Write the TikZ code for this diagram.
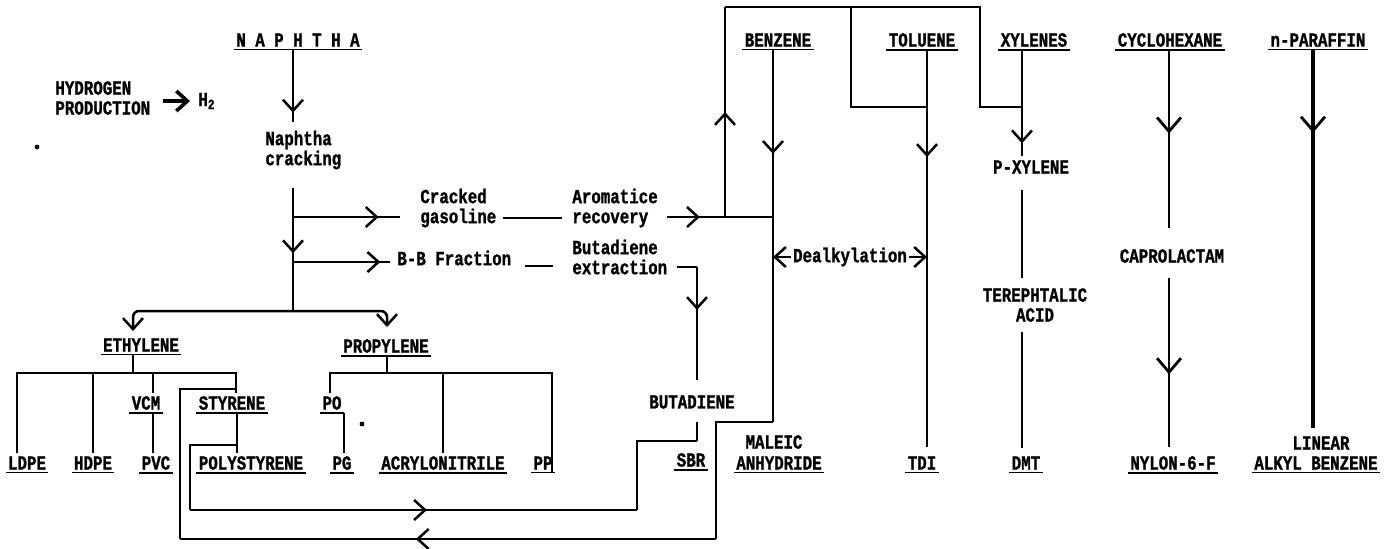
\documentclass[tikz,border=0pt]{standalone}
\usepackage{fontspec}
\newfontfamily\tw[FakeStretch=0.79,FakeBold=1.2]{Liberation Mono}
\usetikzlibrary{arrows.meta,decorations.markings}
\tikzset{
  ln/.style={line width=1.25pt},
  >={Straight Barb[length=5.5pt,width=10pt]},
  marr/.style={postaction={decorate,decoration={markings,mark=at position #1 with {\arrow{>}}}}},
  marrb/.style={postaction={decorate,decoration={markings,mark=at position #1 with {\arrow[line width=1.4pt]{Straight Barb[length=7pt,width=12pt]}}}}},
  lbl/.style={font=\tw\bfseries\fontsize{10}{10}\selectfont, inner xsep=1pt, inner ysep=1.3pt},
  ul/.style={lbl, append after command={(\tikzlastnode.south west) edge[draw,line width=0.9pt] (\tikzlastnode.south east)}},
}
\begin{document}
\begin{tikzpicture}[x=0.5pt,y=-0.5pt]
\useasboundingbox (0,0) rectangle (1389,548);
% ---------- labels ----------
\node[ul] (naph) at (298,40) {N A P H T H A};
\node[lbl,align=left,anchor=west] (hyd) at (53,98) {HYDROGEN\\PRODUCTION};
\node[lbl,anchor=west] (h2) at (196,101) {H\textsubscript{2}};
\node[lbl,align=left,anchor=west] (crack) at (263,150) {Naphtha\\cracking};
\node[lbl,align=left,anchor=west] (cgas) at (418,208) {Cracked\\gasoline};
\node[lbl,align=left,anchor=west] (arom) at (570,208) {Aromatice\\recovery};
\node[lbl,anchor=west] (bbf) at (395,258) {B-B Fraction};
\node[lbl,align=left,anchor=west] (butx) at (570,257) {Butadiene\\extraction};
\node[lbl] (buta) at (692,402) {BUTADIENE};
\node[ul] (sbr) at (691,460) {SBR};
\node[ul] (ethy) at (141,345) {ETHYLENE};
\node[ul] (prop) at (386,346) {PROPYLENE};
\node[ul] (ldpe) at (27,463) {LDPE};
\node[ul] (hdpe) at (93,463) {HDPE};
\node[ul] (vcm) at (146,403) {VCM};
\node[ul] (pvc) at (156,463) {PVC};
\node[ul] (styr) at (232,403) {STYRENE};
\node[ul] (poly) at (251,463) {POLYSTYRENE};
\node[ul] (po) at (332,403) {PO};
\node[ul] (pg) at (342,463) {PG};
\node[ul] (acry) at (443,463) {ACRYLONITRILE};
\node[ul] (pp) at (543,463) {PP};
\node[ul] (benz) at (778,40) {BENZENE};
\node[ul] (tolu) at (922,40) {TOLUENE};
\node[ul] (xyl) at (1034,40) {XYLENES};
\node[ul] (cyclo) at (1170,40) {CYCLOHEXANE};
\node[ul] (npar) at (1318,40) {n-PARAFFIN};
\node[lbl] (pxyl) at (1031,167) {P-XYLENE};
\node[lbl,align=center] (tere) at (1035,305) {TEREPHTALIC\\ACID};
\node[ul] (dmt) at (1026,463) {DMT};
\node[ul] (tdi) at (922,463) {TDI};
\node[lbl] (male) at (774,442) {MALEIC};
\node[ul] (anhy) at (779,463) {ANHYDRIDE};
\node[lbl] (capro) at (1172,256) {CAPROLACTAM};
\node[ul] (nylon) at (1173,463) {NYLON-6-F};
\node[lbl] (linear) at (1321,443) {LINEAR};
\node[ul] (alkyl) at (1316,463) {ALKYL BENZENE};
% specks
\fill (37,147) circle (1.2pt);
\fill (362,424) circle (1.2pt);
% ---------- coordinates ----------
\coordinate (c1) at (293,122);
\coordinate (c2) at (293,188);
\coordinate (j1) at (293,217);
\coordinate (j2) at (293,262);
\coordinate (j3) at (293,311);
\coordinate (e1) at (400,217);
\coordinate (e2) at (390,262);
\coordinate (d1a) at (503,218);
\coordinate (d1b) at (562,218);
\coordinate (d2a) at (525,266);
\coordinate (d2b) at (553,266);
\coordinate (a0) at (667,217);
\coordinate (a1) at (725,217);
\coordinate (a2) at (773,217);
\coordinate (t1) at (725,7);
\coordinate (t2) at (851,7);
\coordinate (t3) at (980,7);
\coordinate (t4) at (980,107);
\coordinate (t5) at (851,107);
\coordinate (x1) at (1022,107);
\coordinate (y1) at (927,107);
\coordinate (b1) at (773,422);
\coordinate (tl1) at (927,447);
\coordinate (x2) at (1022,156);
\coordinate (x3) at (1022,190);
\coordinate (x4) at (1022,278);
\coordinate (x5) at (1022,332);
\coordinate (x6) at (1022,448);
\coordinate (dl) at (773,257);
\coordinate (dr) at (927,257);
\coordinate (cy1) at (1169,228);
\coordinate (cy2) at (1169,278);
\coordinate (cy3) at (1169,447);
\coordinate (np1) at (1313,428);
\coordinate (bx0) at (677,267);
\coordinate (bx1) at (697,267);
\coordinate (bx2) at (697,380);
\coordinate (s0) at (697,422);
\coordinate (s1) at (697,441);
\coordinate (il1) at (237,445);
\coordinate (il2) at (190,445);
\coordinate (il3) at (190,510);
\coordinate (il4) at (637,510);
\coordinate (il5) at (637,441);
\coordinate (ol1) at (716,422);
\coordinate (ol2) at (716,539);
\coordinate (ol3) at (180,539);
\coordinate (ol4) at (180,389);
\coordinate (ol5) at (236,389);
\coordinate (nb1) at (133,311);
\coordinate (nb2) at (133,331);
\coordinate (nb3) at (387,311);
\coordinate (nb4) at (387,327);
\coordinate (eb) at (133,373);
\coordinate (eb1) at (17,373);
\coordinate (eb2) at (236,373);
\coordinate (pb) at (387,373);
\coordinate (pb1) at (330,373);
\coordinate (pb2) at (552,373);
% ---------- connectors ----------
\draw[line width=1.8pt,->,shorten <=5pt,shorten >=3pt] (hyd.east |- h2.west) -- (h2.west);
\draw[ln,marr=0.87] (naph.south -| c1) -- (c1);
\draw[ln,marr=0.53] (c2) -- (j3);
\draw[ln,marr=0.8] (j1) -- (e1);
\draw[ln,marr=0.9] (j2) -- (e2);
\draw[ln] (d1a) -- (d1b);
\draw[ln] (d2a) -- (d2b);
\draw[ln,marr=0.31] (a0) -- (a2);
\draw[ln,marr=0.5] (a1) -- (t1);
\draw[ln] (t1) -- (t3) -- (t4) -- (x1);
\draw[ln] (t2) -- (t5) -- (y1);
\draw[ln,marr=0.28] (benz.south -| b1) -- (b1);
\draw[ln,marr=0.27] (tolu.south -| tl1) -- (tl1);
\draw[ln,marr=0.88] (xyl.south -| x2) -- (x2);
\draw[ln] (x3) -- (x4);
\draw[ln] (x5) -- (x6);
\draw[ln,<->] (dl) -- (dr) node[midway,lbl,fill=white] (dealk) {Dealkylation};
\draw[ln,marrb=0.47] (cyclo.south -| cy1) -- (cy1);
\draw[ln,marrb=0.57] (cy2) -- (cy3);
\draw[line width=1.8pt,marrb=0.22] (npar.south -| np1) -- (np1);
\draw[ln] (bx0) -- (bx1);
\draw[ln,marr=0.38] (bx1) -- (bx2);
\draw[ln] (s0) -- (s1);
% styrene -> SBR loop
\draw[ln] (il1) -- (il2) -- (il3);
\draw[ln,marr=0.53] (il3) -- (il4);
\draw[ln] (il4) -- (il5) -- (s1);
% benzene -> styrene loop
\draw[ln] (b1) -- (ol1) -- (ol2);
\draw[ln,marr=0.56] (ol2) -- (ol3);
\draw[ln] (ol3) -- (ol4) -- (ol5);
% naphtha cracking bus
\draw[ln,->,rounded corners=3pt] (j3) -- (nb1) -- (nb2);
\draw[ln,->,rounded corners=3pt] (j3) -- (nb3) -- (nb4);
% ethylene tree
\draw[ln] (ethy.south -| eb) -- (eb);
\draw[ln] (ldpe.north -| eb1) -- (eb1) -- (eb2) -- (styr.north -| eb2);
\draw[ln] (hdpe.north |- eb) -- (hdpe.north);
\draw[ln] (vcm.north -| 153,0) |- (eb);
\draw[ln] (vcm.south -| 153,0) -- (pvc.north -| 153,0);
\draw[ln] (styr.south -| il1) -- (poly.north -| il1);
% propylene tree
\draw[ln] (prop.south -| pb) -- (pb);
\draw[ln] (po.north -| pb1) -- (pb1) -- (pb2) -- (pp.south -| pb2);
\draw[ln] (acry.north |- pb) -- (acry.north);
\draw[ln] (po.south east) -- (po.south east |- pg.north);
\end{tikzpicture}
\end{document}
